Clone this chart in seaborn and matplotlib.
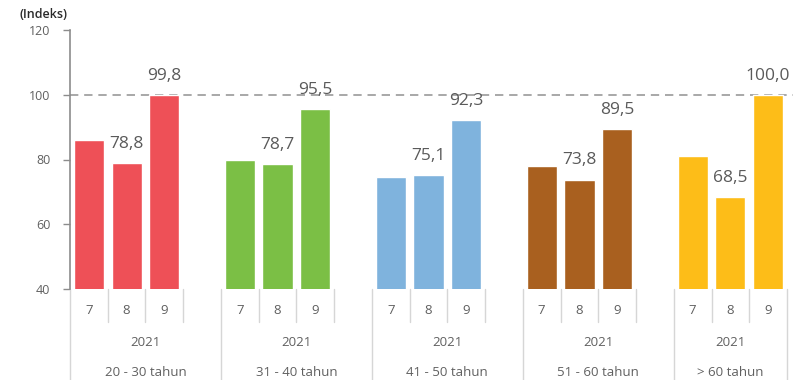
import matplotlib
matplotlib.use("Agg")
import matplotlib.pyplot as plt
import matplotlib.transforms as mtransforms
import numpy as np
import pandas as pd
import seaborn as sns

# Indeks per kelompok umur, bulan 7-9 tahun 2021
age_groups = ["20 - 30 tahun", "31 - 40 tahun", "41 - 50 tahun", "51 - 60 tahun", "> 60 tahun"]
months = ["7", "8", "9"]
year_label = "2021"
idx_jul = [86.0, 80.0, 74.6, 78.1, 81.0]
idx_aug = [78.8, 78.7, 75.1, 73.8, 68.5]
idx_sep = [99.8, 95.5, 92.3, 89.5, 100.0]
group_colors = ["#EE5057", "#7BBF45", "#7FB3DD", "#A9601F", "#FDBD18"]
y_ticks = [40, 60, 80, 100, 120]
reference_level = 100

# each group takes 4 slots (3 months + one empty gap); the last group has no gap
slots_per_group = 4
n_slots = slots_per_group * (len(age_groups) - 1) + len(months)

rows = []
for g, grp in enumerate(age_groups):
    for m, vals in enumerate([idx_jul, idx_aug, idx_sep]):
        rows.append({"slot": g * slots_per_group + m, "group": grp,
                     "month": months[m], "value": vals[g]})
df = pd.DataFrame(rows)

sns.set_theme(style="white")
plt.rcParams["font.family"] = ["Open Sans", "DejaVu Sans"]

fig = plt.figure(figsize=(7.98, 3.80), dpi=100)
ax = fig.add_axes([70 / 798, 1 - 289 / 380, (787 - 70) / 798, (289 - 30) / 380])

sns.barplot(data=df, x="slot", y="value", hue="group", order=list(range(n_slots)),
            hue_order=age_groups, palette=group_colors, dodge=False,
            width=0.8, errorbar=None, legend=False, ax=ax, saturation=1)

ax.set_ylim(40, 120)
ax.set_xlim(-0.5, n_slots - 0.5)
ax.set_yticks(y_ticks)
ax.set_yticklabels([str(t) for t in y_ticks])
ax.set_xticks([])
ax.set_xlabel("")
ax.set_ylabel("")
for s in ["top", "right", "bottom"]:
    ax.spines[s].set_visible(False)
ax.spines["left"].set_color("#8c8c8c")
ax.spines["left"].set_linewidth(1.2)
ax.tick_params(axis="y", direction="out", length=5, width=1, color="#8c8c8c",
               pad=9, labelsize=9, labelcolor="#606060", left=True)

# dashed reference line at 100
ax.axhline(reference_level, xmin=0, xmax=1.008, color="#9a9a9a", lw=1.2,
           ls=(0, (5, 3.5)), zorder=0, clip_on=False)

# value labels on the August and September bars
for _, r in df.iterrows():
    if r["month"] == "7":
        continue
    ax.annotate(f"{r['value']:.1f}".replace(".", ","), (r["slot"], r["value"]),
                xytext=(0, 8), textcoords="offset points", ha="center", va="bottom",
                fontsize=12.5, color="#5a5a5a")

# multi-level category axis below the plot
trans = mtransforms.blended_transform_factory(ax.transData, ax.transAxes)
ax_h = 289 - 30
short_y = -(322 - 289) / ax_h
long_y = -(380 - 289) / ax_h
sep_color = "#d6d6d6"
for k in range(n_slots + 1):
    x = k - 0.5
    is_group_edge = (k % slots_per_group == 0) or k == n_slots
    y_end = long_y if is_group_edge else short_y
    ax.plot([x, x], [0, y_end], transform=trans, color=sep_color, lw=1,
            clip_on=False, zorder=1)

month_y = -(310 - 289) / ax_h
year_y = -(342 - 289) / ax_h
group_y = -(373 - 289) / ax_h
for _, r in df.iterrows():
    ax.text(r["slot"], month_y, r["month"], transform=trans, ha="center", va="center",
            fontsize=9.5, color="#606060")
for g, grp in enumerate(age_groups):
    start = g * slots_per_group - 0.5
    end = min(start + slots_per_group, n_slots - 0.5)
    cx = (start + end) / 2
    ax.text(cx, year_y, year_label, transform=trans, ha="center", va="center",
            fontsize=9.5, color="#606060")
    ax.text(cx, group_y, grp, transform=trans, ha="center", va="center",
            fontsize=9.5, color="#606060")

fig.text(43 / 798, 1 - 15 / 380, "(Indeks)", ha="center", va="center",
         fontsize=9, fontweight="semibold", color="#2a2a2a")

fig.savefig("out.png", dpi=100)
